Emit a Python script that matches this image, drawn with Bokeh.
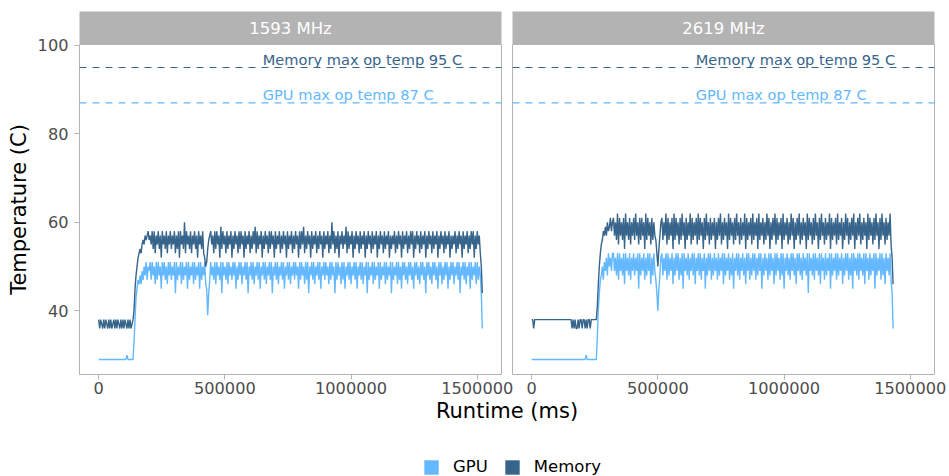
import numpy as np
from bokeh.plotting import figure
from bokeh.models import Range1d, FixedTicker, BasicTickFormatter, Span, Legend, LegendItem
from bokeh.layouts import row, column
from bokeh.core.properties import value
from bokeh.embed import file_html
from bokeh.resources import INLINE

# ---------------- data ----------------
FACETS = ["1593 MHz", "2619 MHz"]
SERIES = ["GPU", "Memory"]
SAMPLE_MS = 4000  # sampling interval of the temperature log

gpu_1593 = [
    # idle
    29, 29, 29, 29, 29, 29, 29, 29, 29, 29, 29, 29, 29, 29, 29, 29, 29, 29,
    29, 29, 29, 29, 29, 29, 29, 29, 29, 29, 30, 29, 29, 29, 29, 29, 29,
    # ramp
    33, 38, 43, 45, 47, 46, 48, 46, 49, 47, 50, 48, 51, 47, 50, 49,
    # load
    51, 47, 51, 48, 50, 46, 51, 47, 51, 48, 50, 45, 51, 48, 51, 47, 50, 46, 51, 48,
    51, 47, 50, 48, 51, 44, 51, 47, 50, 48, 51, 46, 51, 47, 50, 48, 51, 45, 51, 47,
    50, 48, 51, 46, 51, 47, 50, 48, 51, 45, 51, 47, 50, 48, 51, 46, 45, 39, 44, 47,
    51, 48, 50, 47, 51, 46, 51, 48, 50, 47, 51, 44, 51, 48, 50, 47, 51, 46, 51, 48,
    50, 47, 51, 48, 51, 45, 50, 47, 51, 48, 51, 46, 50, 48, 51, 47, 51, 44, 50, 48,
    51, 47, 51, 46, 50, 48, 51, 47, 51, 45, 50, 48, 51, 47, 51, 46, 50, 48, 51, 47,
    51, 44, 50, 48, 51, 47, 51, 46, 50, 48, 51, 47, 51, 45, 50, 48, 51, 47, 51, 46,
    50, 48, 51, 47, 51, 48, 50, 45, 51, 47, 51, 48, 50, 46, 51, 47, 51, 44, 50, 48,
    51, 47, 51, 46, 50, 48, 51, 47, 51, 45, 50, 48, 51, 47, 51, 48, 50, 46, 51, 47,
    51, 48, 50, 44, 51, 47, 51, 48, 50, 46, 51, 47, 51, 45, 50, 48, 51, 47, 51, 46,
    50, 48, 51, 47, 51, 45, 50, 48, 51, 47, 51, 46, 50, 48, 51, 44, 51, 47, 50, 48,
    51, 46, 51, 47, 50, 48, 51, 45, 51, 47, 50, 48, 51, 46, 51, 47, 50, 48, 51, 44,
    51, 47, 50, 48, 51, 46, 51, 47, 50, 45, 51, 48, 51, 47, 50, 46, 51, 48, 51, 47,
    50, 45, 51, 48, 51, 47, 50, 46, 51, 48, 51, 47, 50, 44, 51, 48, 51, 47, 50, 46,
    51, 48, 51, 47, 50, 45, 51, 48, 51, 46, 50, 47, 51, 48, 51, 45, 50, 47, 51, 48,
    51, 46, 50, 48, 51, 47, 51, 44, 50, 48, 51, 47, 51, 46, 50, 48, 51, 45, 51, 47,
    50, 48, 51, 46, 51, 47, 50, 48,
    # cool-down
    44, 36,
]

mem_1593 = [
    # idle
    38, 36, 38, 37, 36, 38, 36, 38, 37, 36, 38, 36, 38, 36, 37, 38, 36, 38,
    36, 38, 37, 36, 38, 36, 38, 36, 38, 37, 36, 38, 36, 38, 36, 37, 38,
    # ramp
    40, 45, 48, 50, 52, 53, 54, 53, 55, 56, 55, 57, 56, 57, 58, 56,
    # load
    57, 55, 58, 54, 58, 53, 57, 55, 58, 54, 57, 52, 58, 55, 57, 54, 58, 53, 57, 55,
    58, 54, 57, 55, 58, 53, 57, 54, 58, 52, 58, 55, 57, 54, 60, 53, 58, 55, 57, 54,
    58, 53, 57, 55, 58, 54, 57, 52, 58, 55, 57, 54, 58, 53, 52, 50, 51, 54, 56, 57,
    58, 55, 57, 53, 58, 54, 58, 55, 57, 52, 59, 54, 58, 55, 57, 53, 58, 54, 57, 55,
    58, 52, 57, 54, 58, 55, 57, 53, 58, 54, 58, 55, 57, 52, 58, 54, 57, 55, 58, 53,
    57, 54, 58, 55, 59, 53, 58, 54, 57, 55, 58, 52, 57, 54, 58, 55, 57, 53, 58, 54,
    58, 55, 57, 52, 58, 54, 57, 55, 58, 53, 57, 54, 58, 55, 57, 52, 58, 54, 57, 55,
    58, 53, 57, 54, 58, 55, 57, 52, 58, 54, 58, 55, 59, 53, 57, 54, 58, 55, 57, 52,
    58, 54, 57, 55, 58, 53, 57, 54, 58, 55, 57, 52, 58, 54, 57, 55, 58, 53, 57, 54,
    60, 55, 58, 53, 57, 54, 58, 52, 57, 55, 58, 54, 57, 55, 59, 53, 58, 54, 57, 55,
    58, 52, 57, 54, 58, 55, 57, 53, 58, 54, 57, 55, 58, 52, 57, 54, 58, 55, 57, 53,
    58, 54, 57, 55, 58, 52, 57, 54, 58, 55, 57, 53, 58, 54, 57, 55, 58, 52, 57, 54,
    57, 55, 58, 53, 57, 54, 58, 55, 57, 52, 58, 54, 57, 55, 58, 53, 57, 54, 58, 55,
    58, 52, 57, 54, 58, 55, 57, 53, 58, 54, 57, 55, 58, 52, 57, 54, 58, 55, 57, 53,
    58, 54, 57, 55, 58, 52, 57, 54, 58, 55, 57, 53, 58, 54, 57, 55, 58, 52, 57, 54,
    57, 55, 58, 53, 57, 54, 58, 55, 57, 52, 58, 54, 57, 55, 58, 53, 57, 54, 58, 55,
    58, 52, 57, 54, 58, 55, 57, 53,
    # cool-down
    50, 44,
]

gpu_2619 = [
    # idle
    29, 29, 29, 29, 29, 29, 29, 29, 29, 29, 29, 29, 29, 29, 29, 29, 29, 29, 29, 29,
    29, 29, 29, 29, 29, 29, 29, 29, 29, 29, 29, 29, 29, 29, 29, 29, 29, 29, 29, 29,
    29, 29, 29, 29, 29, 29, 29, 29, 29, 29, 29, 29, 29, 29, 30, 29, 29, 29, 29, 29,
    29, 29, 29, 29, 29,
    # ramp
    34, 40, 44, 47, 48, 50, 47, 51, 49, 52, 48, 53, 50, 52, 49, 53,
    # load
    53, 49, 52, 48, 53, 47, 53, 49, 52, 48, 53, 46, 53, 49, 52, 48, 53, 47, 52, 49,
    53, 48, 52, 49, 53, 45, 53, 48, 52, 49, 53, 47, 52, 48, 53, 49, 53, 46, 52, 48,
    53, 49, 47, 44, 40, 45, 48, 52, 53, 48, 52, 49, 53, 47, 53, 48, 52, 49, 53, 46,
    52, 48, 53, 49, 53, 47, 52, 48, 53, 45, 53, 49, 52, 48, 53, 47, 52, 49, 53, 48,
    53, 46, 52, 49, 53, 48, 53, 47, 52, 49, 53, 45, 52, 48, 53, 49, 53, 47, 52, 48,
    53, 49, 52, 47, 53, 48, 52, 49, 53, 46, 53, 48, 52, 49, 53, 47, 52, 48, 53, 45,
    52, 49, 53, 48, 53, 47, 52, 49, 53, 48, 52, 46, 53, 49, 53, 47, 52, 48, 53, 49,
    53, 47, 52, 48, 53, 49, 53, 45, 52, 48, 53, 49, 52, 47, 53, 48, 53, 49, 52, 46,
    53, 48, 53, 49, 52, 47, 53, 48, 53, 45, 52, 49, 53, 48, 52, 47, 53, 49, 53, 48,
    52, 46, 53, 49, 53, 48, 52, 47, 53, 49, 52, 48, 53, 44, 53, 49, 52, 48, 53, 47,
    53, 49, 52, 48, 53, 46, 53, 49, 52, 47, 53, 48, 52, 49, 53, 45, 53, 48, 52, 49,
    53, 47, 53, 48, 52, 49, 53, 46, 52, 48, 53, 49, 53, 47, 52, 48, 53, 45, 53, 49,
    52, 48, 53, 47, 53, 49, 52, 48, 53, 46, 53, 49, 52, 47, 53, 48, 52, 49, 53, 45,
    53, 48, 52, 49, 53, 47, 53, 48, 52, 46, 53, 49, 52, 48, 53, 47,
    # cool-down
    44, 36,
]

mem_2619 = [
    # idle
    38, 38, 36, 38, 38, 38, 38, 38, 38, 38, 38, 38, 38, 38, 38, 38, 38, 38, 38, 38,
    38, 38, 38, 38, 38, 38, 38, 38, 38, 38, 38, 38, 38, 38, 38, 38, 38, 38, 38, 38,
    36, 38, 36, 38, 36, 36, 38, 36, 38, 38, 36, 38, 38, 36, 38, 36, 38, 38, 36, 38,
    38, 38, 38, 38, 38,
    # ramp
    41, 46, 50, 53, 55, 56, 58, 57, 59, 57, 60, 58, 59, 61, 58, 60,
    # load
    61, 57, 60, 56, 62, 55, 61, 57, 60, 56, 61, 54, 62, 57, 60, 56, 61, 55, 60, 57,
    61, 56, 62, 57, 60, 55, 61, 56, 61, 57, 60, 54, 62, 56, 61, 57, 60, 55, 61, 56,
    60, 57, 56, 53, 50, 54, 57, 60, 61, 56, 60, 57, 62, 55, 61, 56, 60, 57, 61, 54,
    62, 56, 61, 57, 60, 55, 61, 56, 62, 57, 60, 54, 61, 56, 60, 57, 62, 55, 61, 56,
    60, 57, 61, 55, 62, 56, 61, 57, 60, 54, 61, 56, 62, 57, 60, 55, 61, 56, 60, 57,
    61, 54, 60, 56, 61, 57, 62, 55, 60, 56, 61, 57, 60, 54, 62, 56, 61, 57, 60, 55,
    61, 56, 62, 57, 60, 55, 61, 56, 60, 57, 62, 54, 61, 56, 60, 57, 61, 55, 62, 56,
    60, 57, 61, 54, 62, 56, 60, 57, 61, 55, 60, 56, 62, 57, 61, 54, 60, 56, 61, 57,
    62, 55, 61, 56, 60, 57, 61, 54, 62, 56, 60, 57, 61, 55, 60, 56, 62, 57, 61, 54,
    60, 56, 61, 57, 62, 55, 60, 56, 61, 57, 60, 54, 62, 56, 61, 57, 60, 55, 61, 56,
    62, 57, 60, 54, 61, 56, 62, 57, 60, 55, 61, 56, 60, 57, 62, 54, 61, 56, 60, 57,
    61, 55, 62, 56, 60, 57, 61, 54, 60, 56, 62, 57, 61, 55, 60, 56, 61, 57, 62, 54,
    60, 56, 61, 57, 62, 55, 60, 56, 61, 57, 60, 54, 62, 56, 61, 57, 60, 55, 61, 56,
    62, 57, 60, 54, 61, 56, 62, 57, 60, 55, 61, 56, 60, 57, 62, 55,
    # cool-down
    52, 46,
]

MAX_TEMP = {"Memory": 95, "GPU": 87}
LIMIT_LABELS = {"Memory": "Memory max op temp 95 C", "GPU": "GPU max op temp 87 C"}
LABEL_X = 650000
X_TICKS = [0, 500000, 1000000, 1500000]
Y_TICKS = [40, 60, 80, 100]
X_LIMITS = (-76000, 1596000)
Y_LIMITS = (25.6, 100.2)

# ---------------- style ----------------
COLORS = {"GPU": "#63B8FF", "Memory": "#36648B"}
FONT = "DejaVu Sans"
BORDER = "#B3B3B3"
TICK_TEXT = "#4D4D4D"
LEFT_W, RIGHT_W, OVERLAP = 518, 436, 6


def runtime(vals):
    return [i * SAMPLE_MS for i in range(len(vals))]


def make_strip(label, width, left_b, right_b):
    s = figure(width=width, height=44, x_range=Range1d(0, 1), y_range=Range1d(0, 1),
               x_axis_location=None, y_axis_location=None, title=None,
               min_border_left=left_b, min_border_right=right_b,
               min_border_top=11, min_border_bottom=0,
               output_backend="svg", toolbar_location=None)
    s.grid.visible = False
    s.background_fill_color = BORDER
    s.border_fill_alpha = 0
    s.outline_line_color = None
    s.text(x=[0.5], y=[0.5], text=[label], text_align="center", text_baseline="middle",
           text_color="white", text_font_size="16.5px", text_font=value(FONT))
    return s


def make_panel(gpu, mem, show_y):
    p = figure(width=LEFT_W if show_y else RIGHT_W, height=366,
               x_range=Range1d(*X_LIMITS), y_range=Range1d(*Y_LIMITS),
               y_axis_location="left" if show_y else None, title=None,
               min_border_left=79 if show_y else 0,
               min_border_right=17 if show_y else 14,
               min_border_top=10, min_border_bottom=26,
               output_backend="svg", toolbar_location=None,
               margin=(-10, 0, 0, 0))
    p.grid.visible = False
    p.outline_line_color = BORDER
    p.outline_line_width = 1
    p.border_fill_alpha = 0
    p.background_fill_color = "white"

    xa = p.xaxis[0]
    xa.ticker = FixedTicker(ticks=X_TICKS)
    xa.formatter = BasicTickFormatter(use_scientific=False)
    axes = [xa]
    if show_y:
        ya = p.yaxis[0]
        ya.ticker = FixedTicker(ticks=Y_TICKS)
        ya.axis_label = "Temperature (C)"
        ya.axis_label_text_font = FONT
        ya.axis_label_text_font_size = "21px"
        ya.axis_label_text_font_style = "normal"
        ya.axis_label_text_color = "black"
        ya.axis_label_standoff = 4
        ya.major_label_standoff = 6
        axes.append(ya)
    for ax in axes:
        ax.axis_line_color = None
        ax.major_tick_line_color = BORDER
        ax.major_tick_out = 5
        ax.major_tick_in = 0
        ax.minor_tick_line_color = None
        ax.major_label_text_font = FONT
        ax.major_label_text_font_size = "16.2px"
        ax.major_label_text_color = TICK_TEXT
    xa.major_label_standoff = 2

    p.line(runtime(gpu), gpu, line_color=COLORS["GPU"], line_width=1.4)
    p.line(runtime(mem), mem, line_color=COLORS["Memory"], line_width=1.4)

    for s in ["Memory", "GPU"]:
        p.add_layout(Span(location=MAX_TEMP[s], dimension="width", line_color=COLORS[s],
                          line_dash="7 6", line_width=1.2))
        p.text(x=[LABEL_X], y=[MAX_TEMP[s]], text=[LIMIT_LABELS[s]],
               text_font=value(FONT), text_font_size="14.6px", text_color=COLORS[s],
               text_align="left", text_baseline="middle", y_offset=-8)
    return p


strip_l = make_strip(FACETS[0], LEFT_W, 79, 17)
strip_r = make_strip(FACETS[1], RIGHT_W, 0, 14)
panel_l = make_panel(gpu_1593, mem_1593, True)
panel_r = make_panel(gpu_2619, mem_2619, False)

bot = figure(width=LEFT_W + RIGHT_W - OVERLAP, height=80,
             x_range=Range1d(0, 1), y_range=Range1d(0, 1),
             x_axis_location=None, y_axis_location=None,
             title="Runtime (ms)", title_location="above",
             min_border_left=79, min_border_right=14, min_border_top=0, min_border_bottom=0,
             output_backend="svg", toolbar_location=None, margin=(-4, 0, 0, 0))
bot.grid.visible = False
bot.outline_line_color = None
bot.border_fill_alpha = 0
bot.background_fill_alpha = 0
bot.title.align = "center"
bot.title.text_font = FONT
bot.title.text_font_size = "21px"
bot.title.text_font_style = "normal"
bot.title.text_color = "black"
bot.title.standoff = 0

renderers = {}
for s in SERIES:
    renderers[s] = bot.quad(left=np.array([np.nan]), right=np.array([np.nan]),
                            top=np.array([np.nan]), bottom=np.array([np.nan]),
                            fill_color=COLORS[s], line_color=None)
legend = Legend(items=[LegendItem(label=s, renderers=[renderers[s]]) for s in SERIES],
                orientation="horizontal", location=(343, 0),
                glyph_width=18, glyph_height=18, label_height=18,
                label_standoff=13, spacing=15, padding=0, margin=0,
                border_line_color=None, background_fill_alpha=0,
                label_text_font=FONT, label_text_font_size="16.5px",
                label_text_color="black")
bot.add_layout(legend, "center")

left_col = column(strip_l, panel_l)
right_col = column(strip_r, panel_r, margin=(0, 0, 0, -OVERLAP))
layout = column(row(left_col, right_col), bot)

open("out.html", "w").write(file_html(layout, INLINE))
